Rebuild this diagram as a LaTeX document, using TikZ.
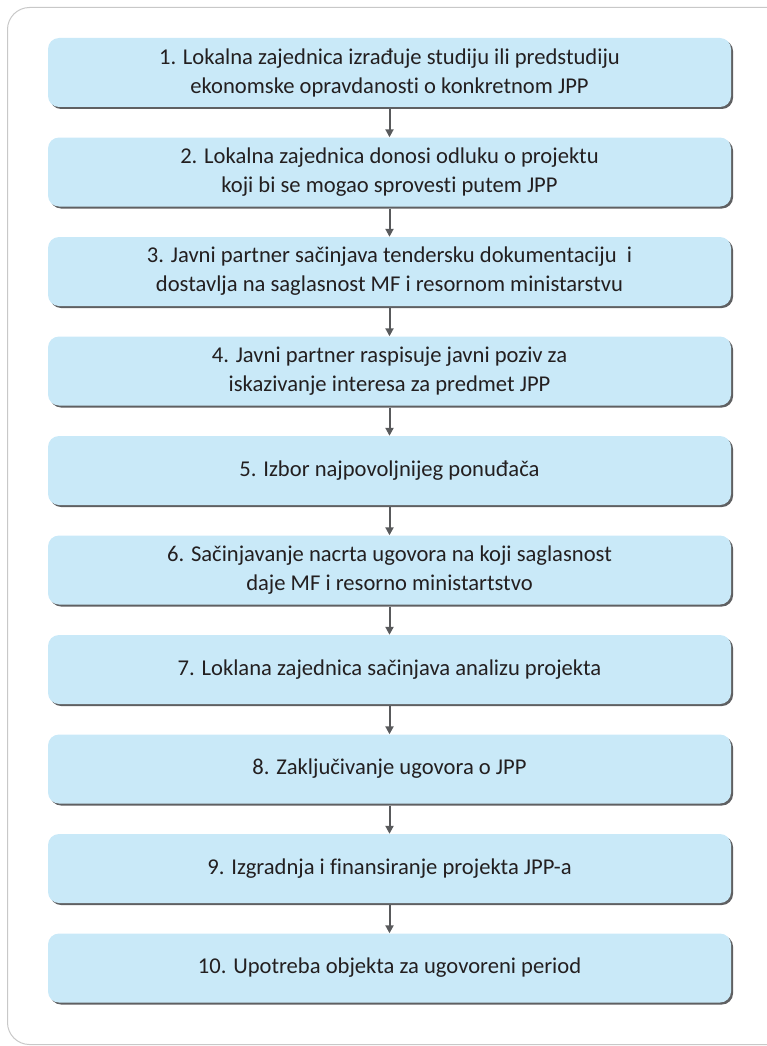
\documentclass[tikz,border=0pt]{standalone}
\usepackage{fontspec}
\setmainfont{Carlito}[Ligatures=NoCommon]
\usetikzlibrary{shadows,arrows.meta}
\definecolor{boxfill}{HTML}{C9E9F8}
\definecolor{shadowgray}{HTML}{5F6062}
\definecolor{arrowgray}{HTML}{595A5C}
\definecolor{txt}{HTML}{231F20}
\definecolor{framegray}{HTML}{C8C8C8}
\tikzset{
  stepbox/.style={rectangle, rounded corners=11pt, fill=boxfill,
    minimum width=683pt, minimum height=69pt, inner sep=0pt,
    align=center, text=txt, font=\fontsize{22.6}{29}\selectfont,
    drop shadow={shadow xshift=2pt, shadow yshift=-2pt, fill=shadowgray, opacity=1}},
  flow/.style={draw=arrowgray, line width=2pt, -{Triangle[width=8pt,length=8pt]}, shorten >=0pt}
}
\begin{document}
\begin{tikzpicture}[x=1pt,y=1pt]
\useasboundingbox (0,0) rectangle (767,-1046);
\begin{scope}
\clip (0,0) rectangle (767,-1046);
\draw[framegray, line width=1pt, rounded corners=22pt] (7.5,-7.5) rectangle (800,-1044.5);
\end{scope}
\node[stepbox] (s1) at (389.5,-72.5) {1. Lokalna zajednica izrađuje studiju ili predstudiju\\ekonomske opravdanosti o konkretnom JPP};
\node[stepbox] (s2) at (389.5,-172) {2. Lokalna zajednica donosi odluku o projektu\\koji bi se mogao sprovesti putem JPP};
\node[stepbox] (s3) at (389.5,-271.5) {3. Javni partner sačinjava tendersku dokumentaciju \ i\\dostavlja na saglasnost MF i resornom ministarstvu};
\node[stepbox] (s4) at (389.5,-371) {4. Javni partner raspisuje javni poziv za\\iskazivanje interesa za predmet JPP};
\node[stepbox] (s5) at (389.5,-470.5) {5. Izbor najpovoljnijeg ponuđača};
\node[stepbox] (s6) at (389.5,-570) {6. Sačinjavanje nacrta ugovora na koji saglasnost\\daje MF i resorno ministartstvo};
\node[stepbox] (s7) at (389.5,-669.5) {7. Loklana zajednica sačinjava analizu projekta};
\node[stepbox] (s8) at (389.5,-769) {8. Zaključivanje ugovora o JPP};
\node[stepbox] (s9) at (389.5,-868.5) {9. Izgradnja i finansiranje projekta JPP-a};
\node[stepbox] (s10) at (389.5,-968) {10. Upotreba objekta za ugovoreni period};
\foreach \a/\b in {s1/s2,s2/s3,s3/s4,s4/s5,s5/s6,s6/s7,s7/s8,s8/s9,s9/s10}
  \draw[flow] ([yshift=-2pt]\a.south) -- (\b.north);
\end{tikzpicture}
\end{document}
